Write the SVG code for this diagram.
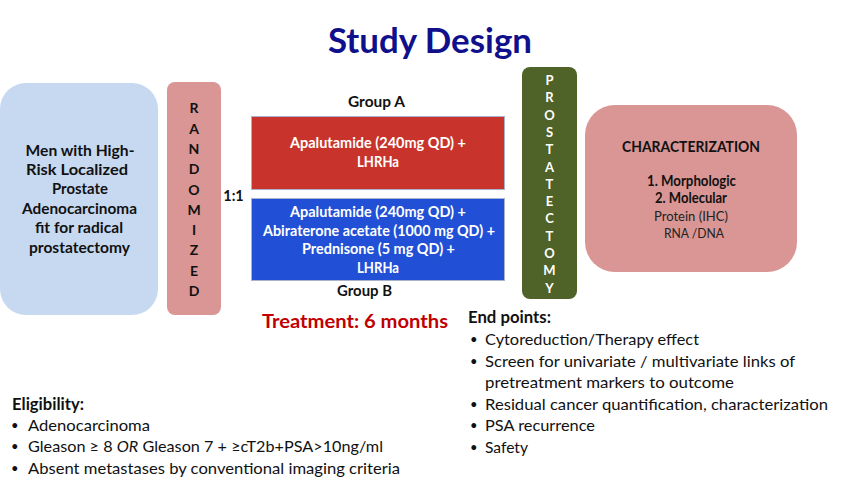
<svg xmlns="http://www.w3.org/2000/svg" width="864" height="486" viewBox="0 0 864 486">
<style>
text{font-family:Lato,"Open Sans","Liberation Sans",sans-serif;}
.b{font-weight:bold;}
.w{fill:#ffffff;}
.k{fill:#111111;}
.c{text-anchor:middle;}
.lt{font-size:14px;font-weight:bold;text-anchor:middle;}
.bl{font-size:16px;fill:#111111;}
.dot{font-size:13px;fill:#111111;}
.box{font-size:15px;font-weight:bold;fill:#111111;text-anchor:middle;}
</style>
<rect width="864" height="486" fill="#ffffff"/>
<text x="430" y="53" class="b c" font-size="34" fill="#10108c" textLength="204" lengthAdjust="spacingAndGlyphs">Study Design</text>

<g id="population">
<rect x="0" y="83" width="158" height="232" rx="26" fill="#c6d9f1"/>
<text class="box" x="80" y="156" textLength="109" lengthAdjust="spacingAndGlyphs">Men with High-</text>
<text class="box" x="77" y="175" textLength="102" lengthAdjust="spacingAndGlyphs">Risk Localized</text>
<text class="box" x="80" y="194" textLength="56" lengthAdjust="spacingAndGlyphs">Prostate</text>
<text class="box" x="79.5" y="214" textLength="115" lengthAdjust="spacingAndGlyphs">Adenocarcinoma</text>
<text class="box" x="79" y="233" textLength="88" lengthAdjust="spacingAndGlyphs">fit for radical</text>
<text class="box" x="79.5" y="253" textLength="101" lengthAdjust="spacingAndGlyphs">prostatectomy</text>
</g>

<g id="randomized">
<rect x="167" y="82" width="54" height="233" rx="8" fill="#d99694"/>
<g class="lt k" fill="#111111">
<text x="194" y="113">R</text>
<text x="194" y="134">A</text>
<text x="194" y="154">N</text>
<text x="194" y="174">D</text>
<text x="194" y="195">O</text>
<text x="194" y="215">M</text>
<text x="194" y="235">I</text>
<text x="194" y="255">Z</text>
<text x="194" y="276">E</text>
<text x="194" y="296">D</text>
</g>
</g>
<text x="233.5" y="201" class="b c k" font-size="14.5">1:1</text>

<g id="groupA">
<text x="376.5" y="107" class="b c k" font-size="15" textLength="57" lengthAdjust="spacingAndGlyphs">Group A</text>
<rect x="251.5" y="116.5" width="253" height="73" fill="#c8342b" stroke="#a9b3cc" stroke-width="1"/>
<text x="378" y="148" class="b c w" font-size="14.5" textLength="176" lengthAdjust="spacingAndGlyphs">Apalutamide (240mg QD) +</text>
<text x="378" y="167" class="b c w" font-size="14.5" textLength="42" lengthAdjust="spacingAndGlyphs">LHRHa</text>
</g>

<g id="groupB">
<rect x="251.5" y="198.5" width="253" height="82" fill="#2150d6" stroke="#a9b3cc" stroke-width="1"/>
<text x="378" y="217" class="b c w" font-size="14.5" textLength="176" lengthAdjust="spacingAndGlyphs">Apalutamide (240mg QD) +</text>
<text x="379" y="236" class="b c w" font-size="14.5" textLength="232" lengthAdjust="spacingAndGlyphs">Abiraterone acetate (1000 mg QD) +</text>
<text x="378.5" y="254" class="b c w" font-size="14.5" textLength="153" lengthAdjust="spacingAndGlyphs">Prednisone (5 mg QD) +</text>
<text x="378" y="273" class="b c w" font-size="14.5" textLength="42" lengthAdjust="spacingAndGlyphs">LHRHa</text>
<text x="364.5" y="296" class="b c k" font-size="15" textLength="55" lengthAdjust="spacingAndGlyphs">Group B</text>
</g>

<text x="262" y="328" class="b" font-size="19" fill="#c00000" textLength="186" lengthAdjust="spacingAndGlyphs">Treatment: 6 months</text>

<g id="prostatectomy">
<rect x="522" y="67" width="55" height="232" rx="8" fill="#4f6228"/>
<g class="lt w" style="font-size:13px">
<text x="549.5" y="85">P</text>
<text x="549.5" y="102">R</text>
<text x="549.5" y="120">O</text>
<text x="549.5" y="137">S</text>
<text x="549.5" y="154">T</text>
<text x="549.5" y="172">A</text>
<text x="549.5" y="189">T</text>
<text x="549.5" y="206">E</text>
<text x="549.5" y="223">C</text>
<text x="549.5" y="241">T</text>
<text x="549.5" y="258">O</text>
<text x="549.5" y="275">M</text>
<text x="549.5" y="293">Y</text>
</g>
</g>

<g id="characterization">
<rect x="585" y="105" width="212" height="167" rx="30" fill="#d99694"/>
<text x="691" y="152" class="box" textLength="138" lengthAdjust="spacingAndGlyphs">CHARACTERIZATION</text>
<text x="691.5" y="186" class="box" font-size="13.5" textLength="89" lengthAdjust="spacingAndGlyphs">1. Morphologic</text>
<text x="691" y="203" class="box" font-size="13.5" textLength="72" lengthAdjust="spacingAndGlyphs">2. Molecular</text>
<text x="691" y="221" class="c" font-size="13.5" fill="#222222" textLength="74" lengthAdjust="spacingAndGlyphs">Protein (IHC)</text>
<text x="694" y="238" class="c" font-size="13.5" fill="#222222" textLength="60" lengthAdjust="spacingAndGlyphs">RNA /DNA</text>
</g>

<g id="endpoints">
<text x="468" y="323" class="b k" font-size="17" textLength="83" lengthAdjust="spacingAndGlyphs">End points:</text>
<g class="dot">
<text x="470" y="344">•</text>
<text x="470" y="366">•</text>
<text x="470" y="409">•</text>
<text x="470" y="430">•</text>
<text x="470" y="452">•</text>
</g>
<g class="bl">
<text x="485" y="345" textLength="214" lengthAdjust="spacingAndGlyphs">Cytoreduction/Therapy effect</text>
<text x="485" y="367" textLength="310" lengthAdjust="spacingAndGlyphs">Screen for univariate / multivariate links of</text>
<text x="485" y="388" textLength="249" lengthAdjust="spacingAndGlyphs">pretreatment markers to outcome</text>
<text x="485" y="410" textLength="343" lengthAdjust="spacingAndGlyphs">Residual cancer quantification, characterization</text>
<text x="485" y="431" textLength="110" lengthAdjust="spacingAndGlyphs">PSA recurrence</text>
<text x="485" y="453" textLength="43" lengthAdjust="spacingAndGlyphs">Safety</text>
</g>
</g>

<g id="eligibility">
<text x="12" y="410" class="b k" font-size="17" textLength="72" lengthAdjust="spacingAndGlyphs">Eligibility:</text>
<g class="dot">
<text x="11" y="430">•</text>
<text x="11" y="451">•</text>
<text x="11" y="473">•</text>
</g>
<g class="bl">
<text x="28" y="431" textLength="122" lengthAdjust="spacingAndGlyphs">Adenocarcinoma</text>
<text x="28" y="452" textLength="355" lengthAdjust="spacingAndGlyphs">Gleason ≥ 8 <tspan font-style="italic">OR</tspan> Gleason 7 + ≥cT2b+PSA&gt;10ng/ml</text>
<text x="28" y="474" textLength="372" lengthAdjust="spacingAndGlyphs">Absent metastases by conventional imaging criteria</text>
</g>
</g>
</svg>
